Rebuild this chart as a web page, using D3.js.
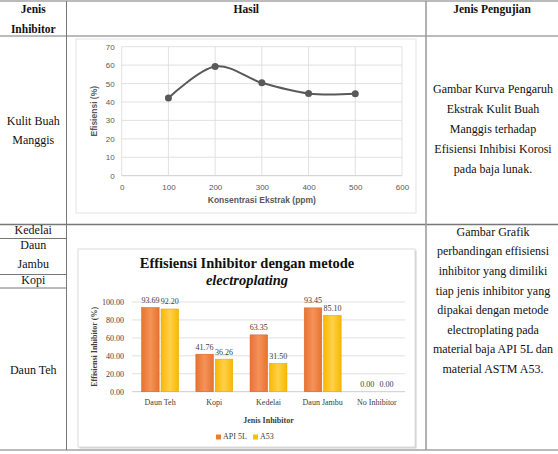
<!DOCTYPE html>
<html>
<head>
<meta charset="utf-8">
<script src="https://cdn.jsdelivr.net/npm/d3@7"></script>
<style>
  body { margin: 0; background: #fff; }
  svg { display: block; }
</style>
</head>
<body>
<div id="container"></div>
<script>
// line chart data (Kulit Buah Manggis)
const konsentrasi = [100, 200, 300, 400, 500]
const efisiensi = [42.2, 59.2, 50.4, 44.6, 44.5]
const lineXTicks = [0, 100, 200, 300, 400, 500, 600]
const lineYTicks = [0, 10, 20, 30, 40, 50, 60, 70]

// bar chart data (electroplating)
const inhibitors = ["Daun Teh", "Kopi", "Kedelai", "Daun Jambu", "No Inhibitor"]
const seriesNames = ["API 5L", "A53"]
const api5L = [93.69, 41.76, 63.35, 93.45, 0.00]
const a53 = [92.20, 36.26, 31.50, 85.10, 0.00]
const barYTicks = [0, 20, 40, 60, 80, 100]

const W = 558, H = 454
const serif = "'Liberation Serif', 'Times New Roman', serif"
const sans = "'Liberation Sans', Arial, sans-serif"
const tableLine = "#777"

const svg = d3.select("#container")
  .append("svg")
  .attr("width", W)
  .attr("height", H)
  .style("background-color", "#fff")

/* ---------- table ---------- */
const colA = 66.5, colB = 426
const rowHead = 36, rowTwo = 224.5, bottom = 450

const tbl = svg.append("g")
// horizontal full lines
;[1, rowHead, rowTwo, bottom].forEach(y => {
  tbl.append("line").attr("x1", 0).attr("x2", W).attr("y1", y).attr("y2", y)
    .attr("stroke", tableLine).attr("stroke-width", y === rowTwo ? 1.5 : 1)
})
// small lines in first column
;[238.5, 274.5, 288].forEach(y => {
  tbl.append("line").attr("x1", 0).attr("x2", colA).attr("y1", y).attr("y2", y)
    .attr("stroke", tableLine)
})
tbl.append("line").attr("x1", colA).attr("x2", colA).attr("y1", 1).attr("y2", bottom)
  .attr("stroke", tableLine)
tbl.append("line").attr("x1", colB).attr("x2", colB).attr("y1", 1).attr("y2", bottom)
  .attr("stroke", "#999").attr("stroke-width", 1.5)

function cellText(lines, cx, y0, step, bold) {
  lines.forEach((t, i) => {
    tbl.append("text")
      .attr("x", cx).attr("y", y0 + i * step)
      .attr("text-anchor", "middle")
      .attr("dominant-baseline", "middle")
      .style("font-family", serif)
      .style("font-size", bold ? "11.5px" : "12px")
      .style("font-weight", bold ? "bold" : "normal")
      .attr("fill", "#111")
      .text(t)
  })
}

cellText(["Jenis", "Inhibitor"], colA / 2, 10, 20, true)
cellText(["Hasil"], (colA + colB) / 2, 10, 20, true)
cellText(["Jenis Pengujian"], (colB + W) / 2, 10, 20, true)

cellText(["Kulit Buah", "Manggis"], colA / 2, 122, 19.5, false)
cellText(["Gambar Kurva Pengaruh", "Ekstrak Kulit Buah", "Manggis terhadap",
  "Efisiensi Inhibisi Korosi", "pada baja lunak."], (colB + W) / 2 + 1, 90, 20, false)

cellText(["Kedelai"], colA / 2, 231.5, 20, false)
cellText(["Daun", "Jambu"], colA / 2, 246, 19, false)
cellText(["Kopi"], colA / 2, 281.5, 20, false)
cellText(["Daun Teh"], colA / 2, 371, 20, false)
cellText(["Gambar Grafik", "perbandingan effisiensi", "inhibitor yang dimiliki",
  "tiap jenis inhibitor yang", "dipakai dengan metode", "electroplating pada",
  "material baja API 5L dan", "material ASTM A53."], (colB + W) / 2 + 1, 233, 19.6, false)

/* ---------- line chart ---------- */
const lc = svg.append("g")
lc.append("rect")
  .attr("x", 76).attr("y", 39).attr("width", 340).attr("height", 174)
  .attr("fill", "#fff").attr("stroke", "#e3e3e3")

const xLine = d3.scaleLinear().domain([0, 600]).range([121.7, 402])
const yLine = d3.scaleLinear().domain([0, 70]).range([175.7, 46.7])

lc.append("g").selectAll("line.h")
  .data(lineYTicks)
  .join("line")
  .attr("x1", xLine(0)).attr("x2", xLine(600))
  .attr("y1", d => yLine(d)).attr("y2", d => yLine(d))
  .attr("stroke", d => d === 0 ? "#bfbfbf" : "#d9d9d9")
  .attr("stroke-width", 0.8)
lc.append("g").selectAll("line.v")
  .data(lineXTicks)
  .join("line")
  .attr("x1", d => xLine(d)).attr("x2", d => xLine(d))
  .attr("y1", yLine(0)).attr("y2", yLine(70))
  .attr("stroke", "#d9d9d9")
  .attr("stroke-width", 0.8)

const xAxisL = lc.append("g")
  .attr("transform", `translate(0, ${yLine(0) + 11.5})`)
  .call(d3.axisBottom(xLine).tickValues(lineXTicks).tickSize(0))
xAxisL.select(".domain").remove()
xAxisL.selectAll("text")
  .attr("dy", 0)
  .attr("fill", "#595959")
  .style("font-family", sans)
  .style("font-size", "8px")

const yAxisL = lc.append("g")
  .attr("transform", `translate(${xLine(0) - 7}, 0)`)
  .call(d3.axisLeft(yLine).tickValues(lineYTicks).tickSize(0))
yAxisL.select(".domain").remove()
yAxisL.selectAll("text")
  .attr("x", 0)
  .attr("fill", "#595959")
  .style("font-family", sans)
  .style("font-size", "8px")

lc.append("text")
  .attr("x", (xLine(0) + xLine(600)) / 2).attr("y", 201)
  .attr("text-anchor", "middle").attr("dominant-baseline", "middle")
  .attr("fill", "#595959")
  .style("font-family", sans).style("font-size", "8.5px").style("font-weight", "bold")
  .text("Konsentrasi Ekstrak (ppm)")
lc.append("text")
  .attr("transform", `translate(95, ${(yLine(0) + yLine(70)) / 2}) rotate(-90)`)
  .attr("text-anchor", "middle").attr("dominant-baseline", "middle")
  .attr("fill", "#595959")
  .style("font-family", sans).style("font-size", "8.5px").style("font-weight", "bold")
  .text("Efisiensi (%)")

const linePts = konsentrasi.map((k, i) => ({ x: k, y: efisiensi[i] }))
lc.append("path")
  .datum(linePts)
  .attr("fill", "none")
  .attr("stroke", "#595959")
  .attr("stroke-width", 2)
  .attr("d", d3.line().x(d => xLine(d.x)).y(d => yLine(d.y)).curve(d3.curveCardinal.tension(0)))
lc.append("g").selectAll("circle")
  .data(linePts)
  .join("circle")
  .attr("cx", d => xLine(d.x)).attr("cy", d => yLine(d.y))
  .attr("r", 3.5)
  .attr("fill", "#595959")

/* ---------- bar chart ---------- */
const bc = svg.append("g")
bc.append("rect")
  .attr("x", 79.5).attr("y", 250.5).attr("width", 337).attr("height", 198)
  .attr("fill", "#d0d0d0")
bc.append("rect")
  .attr("x", 78).attr("y", 249).attr("width", 337).attr("height", 198)
  .attr("fill", "#fff").attr("stroke", "#dcdcdc")

const defs = svg.append("defs")
const gradO = defs.append("linearGradient").attr("id", "gO")
gradO.append("stop").attr("offset", "0%").attr("stop-color", "#e8732f")
gradO.append("stop").attr("offset", "50%").attr("stop-color", "#f5925a")
gradO.append("stop").attr("offset", "100%").attr("stop-color", "#e8732f")
const gradY = defs.append("linearGradient").attr("id", "gY")
gradY.append("stop").attr("offset", "0%").attr("stop-color", "#f7b900")
gradY.append("stop").attr("offset", "50%").attr("stop-color", "#ffd04a")
gradY.append("stop").attr("offset", "100%").attr("stop-color", "#f7b900")

const color = d3.scaleOrdinal().domain(seriesNames).range(["url(#gO)", "url(#gY)"])
const stroke = d3.scaleOrdinal().domain(seriesNames).range(["#d8672a", "#e6aa00"])
const legendColor = d3.scaleOrdinal().domain(seriesNames).range(["#ed7d31", "#ffc000"])

bc.append("text")
  .attr("x", 247).attr("y", 265)
  .attr("text-anchor", "middle").attr("dominant-baseline", "middle")
  .attr("fill", "#111")
  .style("font-family", serif).style("font-size", "14.5px").style("font-weight", "bold")
  .text("Effisiensi Inhibitor dengan metode")
bc.append("text")
  .attr("x", 247).attr("y", 281.5)
  .attr("text-anchor", "middle").attr("dominant-baseline", "middle")
  .attr("fill", "#111")
  .style("font-family", serif).style("font-size", "14.5px").style("font-weight", "bold")
  .style("font-style", "italic")
  .text("electroplating")

const xBar = d3.scaleBand().domain(inhibitors).range([133, 404])
  .paddingInner(0.32).paddingOuter(0.16)
const xSub = d3.scaleBand().domain(seriesNames).range([0, xBar.bandwidth()]).paddingInner(0.1)
const yBar = d3.scaleLinear().domain([0, 100]).range([391.7, 302])

bc.append("g").selectAll("line")
  .data(barYTicks)
  .join("line")
  .attr("x1", 132).attr("x2", 405)
  .attr("y1", d => yBar(d)).attr("y2", d => yBar(d))
  .attr("stroke", d => d === 0 ? "#bfbfbf" : "#d9d9d9")
  .attr("stroke-width", 0.8)

const yAxisB = bc.append("g")
  .attr("transform", `translate(124, 0)`)
  .call(d3.axisLeft(yBar).tickValues(barYTicks).tickFormat(d3.format(".2f")).tickSize(0))
yAxisB.select(".domain").remove()
yAxisB.selectAll("text")
  .attr("x", 0)
  .attr("fill", "#404040")
  .style("font-family", serif)
  .style("font-size", "8px")

const xAxisB = bc.append("g")
  .attr("transform", `translate(0, ${yBar(0) + 10.5})`)
  .call(d3.axisBottom(xBar).tickSize(0))
xAxisB.select(".domain").remove()
xAxisB.selectAll("text")
  .attr("dy", 0)
  .attr("fill", "#404040")
  .style("font-family", serif)
  .style("font-size", "8px")

bc.append("text")
  .attr("transform", `translate(95, ${(yBar(0) + yBar(100)) / 2}) rotate(-90)`)
  .attr("text-anchor", "middle").attr("dominant-baseline", "middle")
  .attr("fill", "#404040")
  .style("font-family", serif).style("font-size", "8px").style("font-weight", "bold")
  .text("Effisiensi Inhibitor (%)")
bc.append("text")
  .attr("x", (xBar.range()[0] + xBar.range()[1]) / 2).attr("y", 421)
  .attr("text-anchor", "middle").attr("dominant-baseline", "middle")
  .attr("fill", "#404040")
  .style("font-family", serif).style("font-size", "8px").style("font-weight", "bold")
  .text("Jenis Inhibitor")

const barData = inhibitors.map((c, i) => ({ cat: c, vals: [api5L[i], a53[i]] }))
const groups = bc.append("g").selectAll("g")
  .data(barData)
  .join("g")
  .attr("transform", d => `translate(${xBar(d.cat)}, 0)`)
const cells = groups.selectAll("g")
  .data(d => seriesNames.map((k, j) => ({ key: k, value: d.vals[j] })))
  .join("g")
cells.append("rect")
  .attr("x", d => xSub(d.key))
  .attr("y", d => yBar(d.value))
  .attr("width", xSub.bandwidth())
  .attr("height", d => yBar(0) - yBar(d.value))
  .attr("fill", d => color(d.key))
  .attr("stroke", d => d.value > 0 ? stroke(d.key) : "none")
  .attr("stroke-width", 0.6)
cells.append("text")
  .attr("x", d => xSub(d.key) + xSub.bandwidth() / 2)
  .attr("y", d => yBar(d.value) - 6.5)
  .attr("text-anchor", "middle").attr("dominant-baseline", "middle")
  .attr("fill", "#404040")
  .style("font-family", serif).style("font-size", "8px")
  .text(d => d3.format(".2f")(d.value))

// legend
const legend = bc.append("g").attr("transform", "translate(216, 437)")
const legItems = legend.selectAll("g")
  .data(seriesNames)
  .join("g")
  .attr("transform", (d, i) => `translate(${i * 37}, 0)`)
legItems.append("rect")
  .attr("x", 0).attr("y", -2.5).attr("width", 5).attr("height", 5)
  .attr("fill", d => legendColor(d))
legItems.append("text")
  .attr("x", 7).attr("y", 0)
  .attr("dominant-baseline", "middle")
  .attr("fill", "#404040")
  .style("font-family", serif).style("font-size", "8px")
  .text(d => d)
</script>
</body>
</html>
